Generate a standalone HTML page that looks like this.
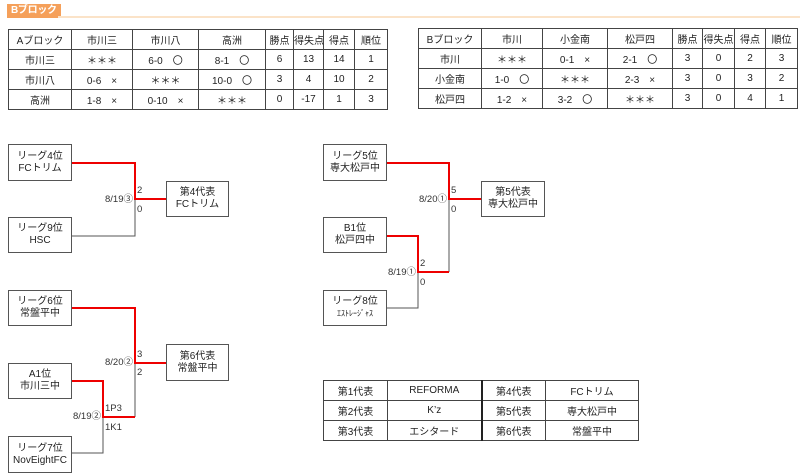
<!DOCTYPE html>
<html><head><meta charset="utf-8"><style>
body{margin:0;width:800px;height:473px;background:#fff;position:relative;overflow:hidden;font-family:"Liberation Sans","Noto Sans CJK JP",sans-serif;font-size:10px;color:#222}
.hd{position:absolute;left:7px;top:4px;height:14px;background:#f5a05a;color:#fff;font-weight:bold;font-size:10px;line-height:14px;padding:0 4px;white-space:nowrap;letter-spacing:-0.3px}
.hl{position:absolute;left:58px;top:16px;width:742px;height:2px;background:#fbe3c8}
table{position:absolute;border-collapse:collapse;table-layout:fixed}
td{border:1px solid #444;text-align:center;padding:0;height:19px;font-size:10px;white-space:nowrap}
.box{position:absolute;border:1px solid #555;box-sizing:border-box;text-align:center;font-size:10px;line-height:12px;display:flex;flex-direction:column;justify-content:center;background:#fff}
.l{position:absolute;font-size:9.5px;line-height:10px;color:#333}
.r{text-align:right}
</style></head><body>
<div class="hd">Bブロック</div><div class="hl"></div>

<table style="left:8px;top:29px;width:379px">
<colgroup><col style="width:63px"><col style="width:61px"><col style="width:66px"><col style="width:67px"><col style="width:28px"><col style="width:30px"><col style="width:31px"><col style="width:33px"></colgroup>
<tr><td>Aブロック</td><td>市川三</td><td>市川八</td><td>高洲</td><td>勝点</td><td>得失点</td><td>得点</td><td>順位</td></tr>
<tr><td>市川三</td><td>＊＊＊</td><td>6-0　〇</td><td>8-1　〇</td><td>6</td><td>13</td><td>14</td><td>1</td></tr>
<tr><td>市川八</td><td>0-6　×</td><td>＊＊＊</td><td>10-0　〇</td><td>3</td><td>4</td><td>10</td><td>2</td></tr>
<tr><td>高洲</td><td>1-8　×</td><td>0-10　×</td><td>＊＊＊</td><td>0</td><td>-17</td><td>1</td><td>3</td></tr>
</table>

<table style="left:418px;top:28px;width:379px">
<colgroup><col style="width:63px"><col style="width:61px"><col style="width:65px"><col style="width:65px"><col style="width:30px"><col style="width:32px"><col style="width:31px"><col style="width:32px"></colgroup>
<tr><td>Bブロック</td><td>市川</td><td>小金南</td><td>松戸四</td><td>勝点</td><td>得失点</td><td>得点</td><td>順位</td></tr>
<tr><td>市川</td><td>＊＊＊</td><td>0-1　×</td><td>2-1　〇</td><td>3</td><td>0</td><td>2</td><td>3</td></tr>
<tr><td>小金南</td><td>1-0　〇</td><td>＊＊＊</td><td>2-3　×</td><td>3</td><td>0</td><td>3</td><td>2</td></tr>
<tr><td>松戸四</td><td>1-2　×</td><td>3-2　〇</td><td>＊＊＊</td><td>3</td><td>0</td><td>4</td><td>1</td></tr>
</table>

<svg style="position:absolute;left:0;top:0" width="800" height="473">
<g fill="none" stroke="#555" stroke-width="1">
<polyline points="72,236 135,236 135,199"/>
<polyline points="72,453 103,453 103,417"/>
<polyline points="135,363 135,417"/>
<polyline points="387,308 418,308 418,272"/>
<polyline points="449,199 449,272"/>
</g>
<g fill="none" stroke="#e00" stroke-width="2">
<polyline points="72,163 135,163 135,199 166,199"/>
<polyline points="72,308 135,308 135,363 166,363"/>
<polyline points="72,381 103,381 103,417 135,417"/>
<polyline points="387,163 449,163 449,199 481,199"/>
<polyline points="387,236 418,236 418,272 449,272"/>
</g>
</svg>

<div class="box" style="left:8px;top:144px;width:64px;height:37px">リーグ4位<br>FCトリム</div>
<div class="box" style="left:8px;top:217px;width:64px;height:36px">リーグ9位<br>HSC</div>
<div class="box" style="left:166px;top:181px;width:63px;height:36px">第4代表<br>FCトリム</div>
<div class="box" style="left:8px;top:290px;width:64px;height:36px">リーグ6位<br>常盤平中</div>
<div class="box" style="left:8px;top:363px;width:64px;height:36px">A1位<br>市川三中</div>
<div class="box" style="left:8px;top:436px;width:64px;height:37px">リーグ7位<br>NovEightFC</div>
<div class="box" style="left:166px;top:344px;width:63px;height:37px">第6代表<br>常盤平中</div>
<div class="box" style="left:323px;top:144px;width:64px;height:37px">リーグ5位<br>専大松戸中</div>
<div class="box" style="left:323px;top:217px;width:64px;height:36px">B1位<br>松戸四中</div>
<div class="box" style="left:323px;top:290px;width:64px;height:36px">リーグ8位<br><span style="font-size:8px">ｴｽﾄﾚｰｼﾞｬｽ</span></div>
<div class="box" style="left:481px;top:181px;width:64px;height:36px">第5代表<br>専大松戸中</div>

<div class="l" style="left:137px;top:186px">2</div>
<div class="l" style="left:137px;top:205px">0</div>
<div class="l r" style="left:93px;top:195px;width:40px">8/19③</div>
<div class="l" style="left:137px;top:350px">3</div>
<div class="l" style="left:137px;top:368px">2</div>
<div class="l r" style="left:93px;top:358px;width:40px">8/20②</div>
<div class="l" style="left:105px;top:404px">1P3</div>
<div class="l" style="left:105px;top:423px">1K1</div>
<div class="l r" style="left:61px;top:412px;width:40px">8/19②</div>
<div class="l" style="left:451px;top:186px">5</div>
<div class="l" style="left:451px;top:205px">0</div>
<div class="l r" style="left:407px;top:195px;width:40px">8/20①</div>
<div class="l" style="left:420px;top:259px">2</div>
<div class="l" style="left:420px;top:278px">0</div>
<div class="l r" style="left:376px;top:268px;width:40px">8/19①</div>

<table style="left:323px;top:380px;width:315px;border:1.5px solid #222">
<colgroup><col style="width:64px"><col style="width:94px"><col style="width:64px"><col style="width:93px"></colgroup>
<tr><td style="height:17px">第1代表</td><td style="border-right:2px solid #222">REFORMA</td><td>第4代表</td><td>FCトリム</td></tr>
<tr><td style="height:17px">第2代表</td><td style="border-right:2px solid #222">K’z</td><td>第5代表</td><td>専大松戸中</td></tr>
<tr><td style="height:17px">第3代表</td><td style="border-right:2px solid #222">エシタード</td><td>第6代表</td><td>常盤平中</td></tr>
</table>
</body></html>
